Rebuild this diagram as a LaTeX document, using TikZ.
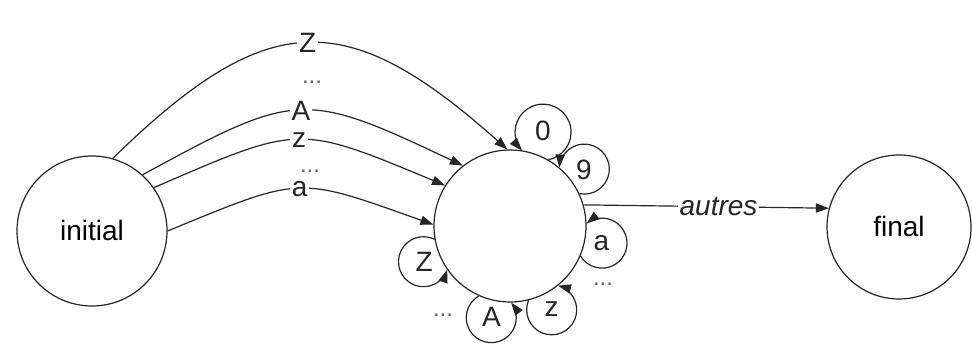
\documentclass[tikz,border=0pt]{standalone}
\usepackage{fontspec}
\setmainfont{Liberation Sans}
\usetikzlibrary{arrows.meta}

\begin{document}
\begin{tikzpicture}[
  x=0.5pt, y=0.5pt,
  state/.style={draw, circle, line width=0.6pt, black!85, fill=white,
                inner sep=0pt, text=black, font=\fontsize{14}{16}\selectfont},
  arr/.style={line width=0.6pt, black!85,
              -{Triangle[length=6.5pt, width=4.6pt]}},
  trans/.style={arr, looseness=1.4},
  lab/.style={font=\fontsize{14}{16}\selectfont, text=black!85,
              fill=white, inner sep=1pt},
  sym/.style={font=\fontsize{14}{16}\selectfont, text=black!85, inner sep=0pt},
  etc/.style={font=\fontsize{12}{14}\selectfont, text=black!60, inner sep=0pt}]

\useasboundingbox (0,0) rectangle (972,356);

% ========================= the three states ==========================
\node[state, minimum size=75pt] (ini) at (92,125)  {initial};
\node[state, minimum size=76pt] (mid) at (510,130) {};
\node[state, minimum size=72pt] (fin) at (899,129) {final};

% =============== first letter, out of the initial state ===============
\draw[trans] (ini.74) to[bend left=43] node[lab] {Z} (mid.92);
\draw[trans] (ini.48) to[bend left=27] node[lab] {A} (mid.128);
\draw[trans] (ini.35) to[bend left=23] node[lab] {z} (mid.148);
\draw[trans] (ini.0)  to[bend left=21] node[lab] {a} (mid.179);
\node[etc] (dotsAZ) at (312,274) {...};
\node[etc] (dotsaz) at (310,185) {...};

% ============ letters and digits, looping on the middle state ============
% label / centre angle / centre distance / start on the border /
% arc from / arc to / loop radius
\foreach \nm/\th/\D/\s/\as/\ae/\r in {0/71/101/60/280.8/581.2/28,
    9/37.5/93/25/258.7/536.3/25,  a/-10.5/93/-23/210.7/488.3/25,
    z/296.5/93/284/157.7/435.3/25, A/258.5/93/246/119.7/397.3/25,
    Z/202.5/93/190/63.7/341.3/25}{
  \draw[arr] (mid.\s) arc[start angle=\as, end angle=\ae, radius=\r];
  \path (mid.center) ++(\th:\D) node[sym] (loop\nm) {\nm};}
\node[etc] (dotsloopaz) at (603,72) {...};
\node[etc] (dotsloopAZ) at (443,41) {...};

% ============================ way out ================================
\draw[arr] (mid.16) -- node[lab, pos=0.55,
  font=\fontsize{14}{16}\selectfont\itshape] {autres} (fin.165);

\end{tikzpicture}
\end{document}
